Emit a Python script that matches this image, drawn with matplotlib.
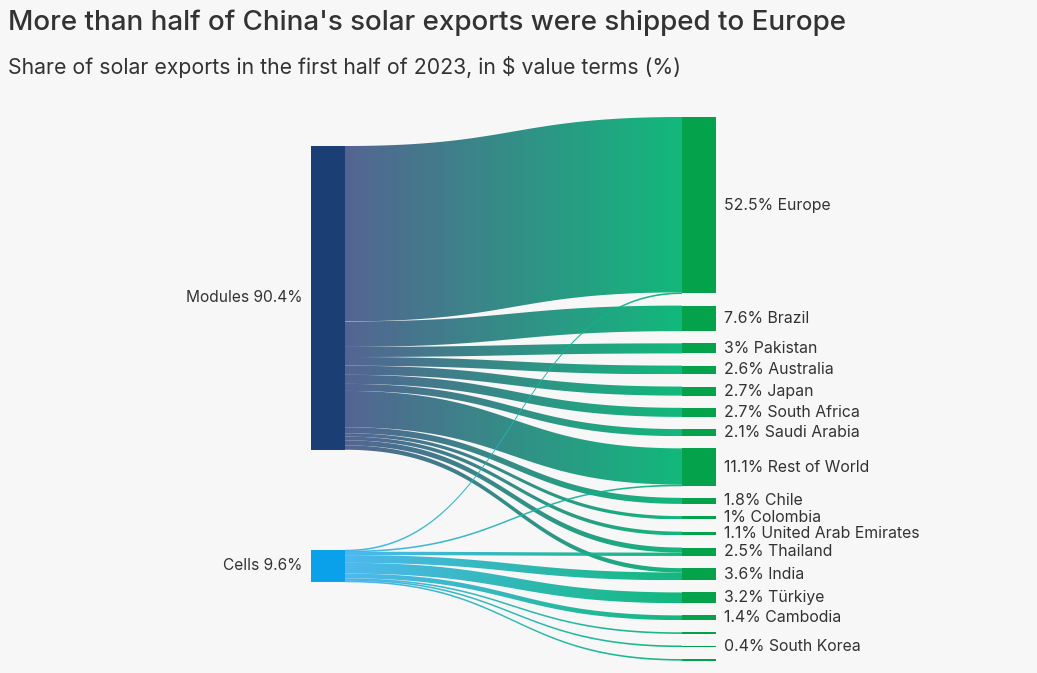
import numpy as np
import matplotlib
matplotlib.use("Agg")
import matplotlib.pyplot as plt
from matplotlib.path import Path
from matplotlib.patches import PathPatch, Rectangle
from matplotlib.colors import LinearSegmentedColormap

# ---------------- data ----------------
source_names = ["Modules", "Cells"]
source_labels = ["Modules 90.4%", "Cells 9.6%"]

target_names = ["Europe", "Brazil", "Pakistan", "Australia", "Japan", "South Africa",
                "Saudi Arabia", "Rest of World", "Chile", "Colombia",
                "United Arab Emirates", "Thailand", "India", "Türkiye", "Cambodia",
                "Other A", "South Korea", "Other B"]
target_labels = ["52.5% Europe", "7.6% Brazil", "3% Pakistan", "2.6% Australia",
                 "2.7% Japan", "2.7% South Africa", "2.1% Saudi Arabia",
                 "11.1% Rest of World", "1.8% Chile", "1% Colombia",
                 "1.1% United Arab Emirates", "2.5% Thailand", "3.6% India",
                 "3.2% Türkiye", "1.4% Cambodia", "", "0.4% South Korea", ""]
target_share = [52.5, 7.6, 3.0, 2.6, 2.7, 2.7, 2.1, 11.1, 1.8, 1.0, 1.1, 2.5, 3.6,
                3.2, 1.4, 0.3, 0.4, 0.4]
cells_share = [0.3, 0, 0, 0, 0, 0, 0, 0.3, 0, 0, 0, 1.0, 2.3, 3.2, 1.4, 0.3, 0.4, 0.4]
modules_share = [round(t - c, 2) for t, c in zip(target_share, cells_share)]

title = "More than half of China's solar exports were shipped to Europe"
subtitle = "Share of solar exports in the first half of 2023, in $ value terms (%)"

# ---------------- style / layout ----------------
W, H = 1037, 673
BG = "#f7f7f7"
TXT = "#333333"
src_node_colors = ["#1b3f74", "#0aa0ea"]
src_link_colors = ["#48598a", "#42b3ef"]
tgt_node_color = "#03a24b"
tgt_link_color = "#00b472"

K = 3.36            # px per percentage point
LX0, LX1 = 311, 345  # left node x-range (px)
RX0, RX1 = 682, 716  # right node x-range (px)
L_TOP, L_GAP = 146, 100
R_TOP, R_GAP = 117, 12.2

fig = plt.figure(figsize=(W / 100, H / 100), dpi=100, facecolor=BG)
ax = fig.add_axes([0, 0, 1, 1])
ax.set_xlim(0, W)
ax.set_ylim(H, 0)
ax.axis("off")
ax.set_facecolor(BG)

flows = [modules_share, cells_share]
src_tot = [sum(f) for f in flows]

# node positions
src_y = []
y = L_TOP
for tot in src_tot:
    src_y.append((y, y + tot * K))
    y += tot * K + L_GAP
tgt_y = []
y = R_TOP
for tot in target_share:
    tgt_y.append((y, y + tot * K))
    y += tot * K + R_GAP

src_off = [s[0] for s in src_y]
tgt_off = [t[0] for t in tgt_y]


def bezier(x0, x1, ya, yb, n=160):
    t = np.linspace(0, 1, n)
    xm = (x0 + x1) / 2
    xs = (1 - t) ** 3 * x0 + 3 * (1 - t) ** 2 * t * xm + 3 * (1 - t) * t ** 2 * xm + t ** 3 * x1
    ys = (1 - t) ** 3 * ya + 3 * (1 - t) ** 2 * t * ya + 3 * (1 - t) * t ** 2 * yb + t ** 3 * yb
    return xs, ys


grad = np.linspace(0, 1, 256).reshape(1, -1)
for si in range(len(source_names)):
    cmap = LinearSegmentedColormap.from_list("g%d" % si, [src_link_colors[si], tgt_link_color])
    for ti in range(len(target_names)):
        v = flows[si][ti]
        if v <= 0:
            continue
        h = v * K
        s0 = src_off[si]
        src_off[si] += h
        t0 = tgt_off[ti]
        tgt_off[ti] += h
        h_draw = max(h, 1.6)
        xs, ytop = bezier(LX1, RX0, s0, t0)
        _, ybot = bezier(LX1, RX0, s0 + h_draw, t0 + h_draw)
        verts = np.concatenate([np.column_stack([xs, ytop]),
                                np.column_stack([xs[::-1], ybot[::-1]])])
        codes = [Path.MOVETO] + [Path.LINETO] * (len(verts) - 1)
        patch = PathPatch(Path(verts, codes), facecolor="none", edgecolor="none")
        ax.add_patch(patch)
        ymin = min(ytop.min(), ybot.min())
        ymax = max(ytop.max(), ybot.max())
        im = ax.imshow(grad, cmap=cmap, aspect="auto", extent=[LX1, RX0, ymax, ymin],
                       alpha=0.93, interpolation="bilinear", zorder=2 + si)
        im.set_clip_path(patch)

# nodes
for si, (y0, y1) in enumerate(src_y):
    ax.add_patch(Rectangle((LX0, y0), LX1 - LX0, y1 - y0, facecolor=src_node_colors[si],
                           edgecolor="none", zorder=5))
    ax.text(LX0 - 9, (y0 + y1) / 2, source_labels[si], ha="right", va="center",
            fontsize=11.2, color=TXT, family="Inter")
for ti, (y0, y1) in enumerate(tgt_y):
    ax.add_patch(Rectangle((RX0, y0), RX1 - RX0, max(y1 - y0, 1.6), facecolor=tgt_node_color,
                           edgecolor="none", zorder=5))
    if target_labels[ti]:
        ax.text(RX1 + 8, (y0 + y1) / 2, target_labels[ti], ha="left", va="center",
                fontsize=11.4, color=TXT, family="Inter")

ax.set_xlim(0, W)
ax.set_ylim(H, 0)

fig.text(8 / W, 1 - 23 / H, title, ha="left", va="center", fontsize=20.0, color=TXT,
         family="Inter", fontweight="medium")
fig.text(8 / W, 1 - 67 / H, subtitle, ha="left", va="center", fontsize=15.3, color=TXT,
         family="Inter")

fig.savefig("out.png", dpi=100, facecolor=BG)
